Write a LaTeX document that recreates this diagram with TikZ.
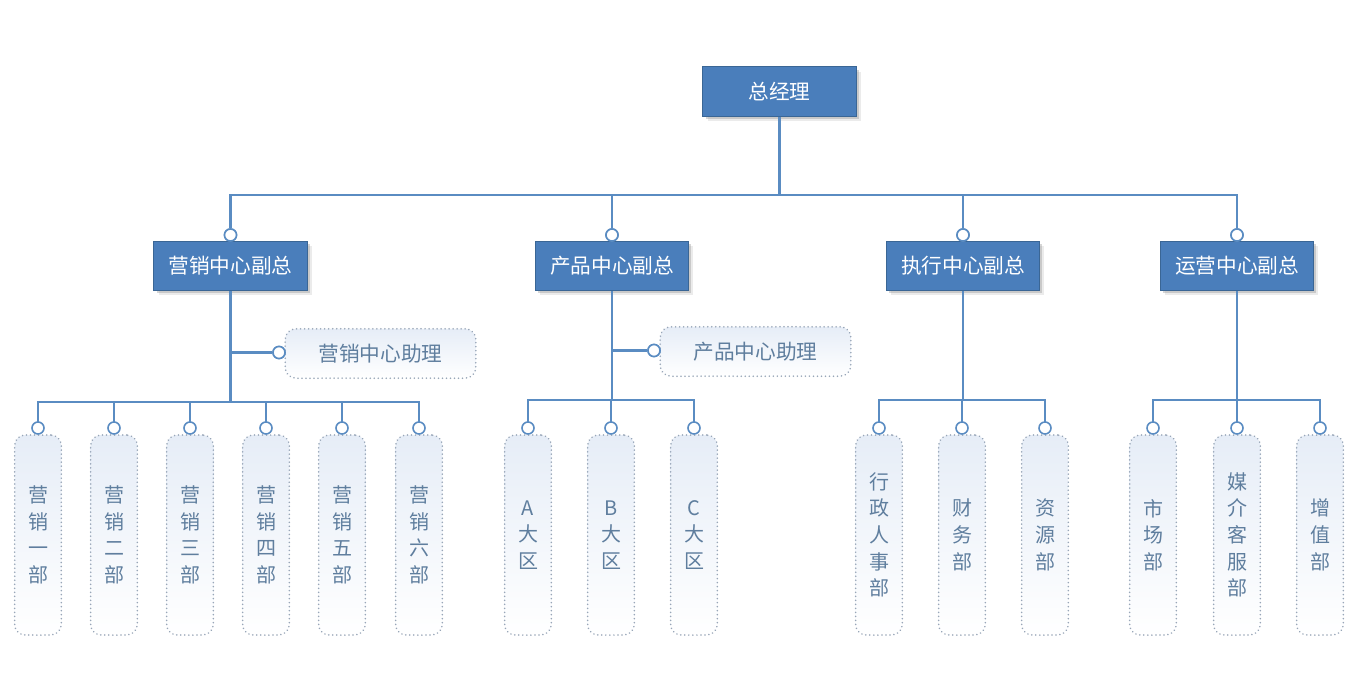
\documentclass[tikz,border=0pt]{standalone}
\usepackage{fontspec}
\newfontfamily\cjk{Noto Sans CJK SC}
\usetikzlibrary{shadows}
\definecolor{boxfill}{HTML}{4A7EBB}
\definecolor{boxdraw}{HTML}{3A6695}
\definecolor{linec}{HTML}{5A8CC2}
\definecolor{dotc}{HTML}{98A6B8}
\definecolor{subtext}{HTML}{5F7E9E}
\definecolor{shadefill}{HTML}{E6EDF7}
\begin{document}
\begin{tikzpicture}[x=0.75pt,y=-0.75pt,
  mainbox/.style={draw=boxdraw, line width=0.8pt, fill=boxfill, text=white, minimum width=115pt, minimum height=37pt, inner sep=0pt,
    font=\cjk\fontsize{15.5}{18}\selectfont,
    drop shadow={shadow xshift=3.5pt, shadow yshift=-3.5pt, fill=black!30, opacity=0.25},
    drop shadow={shadow xshift=2pt, shadow yshift=-2pt, fill=black!45, opacity=0.35}},
  conn/.style={draw=linec, line width=1.8pt},
  knob/.style={circle, draw=linec, fill=white, line width=1.2pt, inner sep=0pt, minimum size=9pt},
  dotline/.style={draw=dotc, line width=1.3pt, line cap=round, dash pattern=on 0.01pt off 3pt, rounded corners=8pt, top color=shadefill, bottom color=white},
  assist/.style={dotline, minimum width=143pt, minimum height=37pt, inner sep=0pt, text=subtext, font=\cjk\fontsize{15.5}{18}\selectfont},
  unit/.style={dotline, minimum width=35pt, minimum height=150pt, inner sep=0pt, align=center, text=subtext, font=\cjk\fontsize{15}{20}\selectfont}
]
\fill[white] (0,0) rectangle (1363,683);
\useasboundingbox (0,0) rectangle (1363,683);

% top
\node[mainbox] (gm) at (779.5,91.5) {总经理};
\node[mainbox] (v1) at (230.5,266) {营销中心副总};
\node[mainbox] (v2) at (612,266) {产品中心副总};
\node[mainbox] (v3) at (963,266) {执行中心副总};
\node[mainbox] (v4) at (1237,266) {运营中心副总};

\node[knob] (v1c) at (230.5,235) {};
\node[knob] (v2c) at (612,235) {};
\node[knob] (v3c) at (963,235) {};
\node[knob] (v4c) at (1237,235) {};

\coordinate (tb) at (779.5,195);

% assistants
\node[assist] (a1) at (380.5,353.5) {营销中心助理};
\node[assist] (a2) at (755.5,351.5) {产品中心助理};
\node[knob] (a1c) at (279,352.5) {};
\node[knob] (a2c) at (654,350.5) {};
\coordinate (a1j) at (230.5,352.5);
\coordinate (a2j) at (612,350.5);

% units
\foreach \n/\x/\t in {u1/38/{营\\销\\一\\部}, u2/114/{营\\销\\二\\部}, u3/190/{营\\销\\三\\部}, u4/266/{营\\销\\四\\部}, u5/342/{营\\销\\五\\部}, u6/419/{营\\销\\六\\部},
  p1/528/{A\\大\\区}, p2/611/{B\\大\\区}, p3/694/{C\\大\\区},
  e1/879/{行\\政\\人\\事\\部}, e2/962/{财\\务\\部}, e3/1045/{资\\源\\部},
  o1/1153/{市\\场\\部}, o2/1237/{媒\\介\\客\\服\\部}, o3/1320/{增\\值\\部}}
{
  \node[unit] (\n) at (\x,535) {\t};
  \coordinate (\n k) at (\x,428);
}

\coordinate (mb) at (230.5,402);
\coordinate (pb) at (612,400);
\coordinate (eb) at (963,400);
\coordinate (ob) at (1237,400);

% connectors
\draw[conn] (gm.south) -- (tb);
\foreach \v in {v1c,v2c,v3c,v4c} \draw[conn] (tb) -| (\v.north);
\draw[conn] (v1.south) -- (mb);
\draw[conn] (v2.south) -- (pb);
\draw[conn] (v3.south) -- (eb);
\draw[conn] (v4.south) -- (ob);
\draw[conn] (a1j) -- (a1c.west);
\draw[conn] (a2j) -- (a2c.west);
\foreach \u in {u1,u2,u3,u4,u5,u6} \draw[conn] (mb) -| (\u k);
\foreach \u in {p1,p2,p3} \draw[conn] (pb) -| (\u k);
\foreach \u in {e1,e2,e3} \draw[conn] (eb) -| (\u k);
\foreach \u in {o1,o2,o3} \draw[conn] (ob) -| (\u k);

% knobs on top
\node[knob] at (v1c) {};
\node[knob] at (v2c) {};
\node[knob] at (v3c) {};
\node[knob] at (v4c) {};
\node[knob] at (a1c) {};
\node[knob] at (a2c) {};
\foreach \u in {u1,u2,u3,u4,u5,u6,p1,p2,p3,e1,e2,e3,o1,o2,o3} \node[knob] at (\u k) {};
\end{tikzpicture}
\end{document}
